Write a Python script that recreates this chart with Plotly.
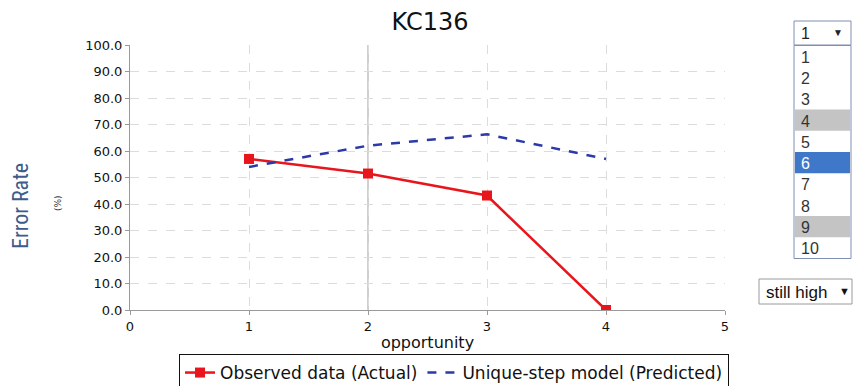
import plotly.graph_objects as go

# ---- data ----
opportunity = [1, 2, 3, 4]
observed = [57.0, 51.5, 43.2, 0.0]
predicted = [54.0, 62.0, 66.3, 57.0]
x_ticks = [0, 1, 2, 3, 4, 5]
y_ticks = [0, 10, 20, 30, 40, 50, 60, 70, 80, 90, 100]
crosshair_x = 2
select_options = ["1", "2", "3", "4", "5", "6", "7", "8", "9", "10"]
selected_value = "1"
gray_rows = ["4", "9"]
blue_row = "6"
filter_label = "still high"

OFF = 8  # page body margin
W, H = 862 - OFF, 386 - OFF
# plot area in screen pixels
SX0, SX1, SY0, SY1 = 130, 725, 45, 310
L, R, T, B = SX0 - OFF, W - (SX1 - OFF), SY0 - OFF, H - (SY1 - OFF)
PW, PH = SX1 - SX0, SY1 - SY0


def px(x):
    return (x - SX0) / PW


def py(y):
    return (SY1 - y) / PH


fig = go.Figure()
fig.add_trace(go.Scatter(
    x=opportunity, y=observed, mode="lines+markers",
    name="Observed data (Actual)",
    line=dict(color="#e8161c", width=2.5),
    marker=dict(symbol="square", size=10, color="#e8161c"),
))
fig.add_trace(go.Scatter(
    x=opportunity, y=predicted, mode="lines",
    name="Unique-step model (Predicted)",
    line=dict(color="#2b3aa8", width=2.5, dash="dash"),
))

shapes = []
annotations = []

# crosshair line
shapes.append(dict(type="line", xref="x", yref="paper", x0=crosshair_x, x1=crosshair_x,
                   y0=0, y1=1, line=dict(color="#a0a0a0", width=1), layer="below"))

# select box (top)
FONT_UI = "Liberation Sans, Arial, sans-serif"
bx0, bx1 = 794, 851
shapes.append(dict(type="rect", xref="paper", yref="paper",
                   x0=px(bx0), x1=px(bx1), y0=py(45), y1=py(21),
                   line=dict(color="#7f8fb0", width=1), fillcolor="white"))
annotations.append(dict(xref="paper", yref="paper", x=px(799), y=py(33), xanchor="left",
                        yanchor="middle", text=selected_value, showarrow=False,
                        font=dict(family=FONT_UI, size=16, color="#222")))
annotations.append(dict(xref="paper", yref="paper", x=px(838), y=py(32), xanchor="center",
                        yanchor="middle", text="▼", showarrow=False,
                        font=dict(family=FONT_UI, size=10, color="#222")))

# list box
top, rowh = 45.5, 21.3
shapes.append(dict(type="rect", xref="paper", yref="paper",
                   x0=px(bx0), x1=px(bx1), y0=py(top + rowh * len(select_options)), y1=py(top),
                   line=dict(color="#7f8fb0", width=1), fillcolor="white"))
for i, opt in enumerate(select_options):
    y0 = top + i * rowh
    fill = None
    color = "#333"
    if opt in gray_rows:
        fill = "#c4c4c4"
    if opt == blue_row:
        fill = "#3f78c8"
        color = "white"
    if fill:
        shapes.append(dict(type="rect", xref="paper", yref="paper",
                           x0=px(bx0 + 1), x1=px(bx1 - 1), y0=py(y0 + rowh), y1=py(y0),
                           line=dict(width=0), fillcolor=fill))
    annotations.append(dict(xref="paper", yref="paper", x=px(799), y=py(y0 + rowh / 2 + 1),
                            xanchor="left", yanchor="middle", text=opt, showarrow=False,
                            font=dict(family=FONT_UI, size=16, color=color)))

# "still high" select
shapes.append(dict(type="rect", xref="paper", yref="paper",
                   x0=px(759), x1=px(852), y0=py(304), y1=py(279),
                   line=dict(color="#9a9a9a", width=1), fillcolor="white"))
annotations.append(dict(xref="paper", yref="paper", x=px(764), y=py(292), xanchor="left",
                        yanchor="middle", text=filter_label, showarrow=False,
                        font=dict(family=FONT_UI, size=17, color="#111")))
annotations.append(dict(xref="paper", yref="paper", x=px(844), y=py(291), xanchor="center",
                        yanchor="middle", text="▼", showarrow=False,
                        font=dict(family=FONT_UI, size=11, color="#111")))

# y axis titles
annotations.append(dict(xref="paper", yref="paper", x=px(20), y=py(206), xanchor="center",
                        yanchor="middle", text="Error Rate", textangle=-90, showarrow=False,
                        font=dict(family="Liberation Sans Narrow, Roboto Condensed, Liberation Sans, Arial",
                                  size=22, color="#3d5b8c")))
annotations.append(dict(xref="paper", yref="paper", x=px(58), y=py(203), xanchor="center",
                        yanchor="middle", text="(%)", textangle=-90, showarrow=False,
                        font=dict(family="DejaVu Sans", size=9, color="#333")))

axis_common = dict(showline=True, linecolor="#9a9a9a", linewidth=1, ticks="outside",
                   ticklen=4, tickcolor="#9a9a9a", showgrid=True, gridcolor="#dcdcdc",
                   griddash="dash", gridwidth=1, zeroline=False,
                   tickfont=dict(family="DejaVu Sans", size=13, color="#111"))

fig.update_layout(
    width=W, height=H,
    margin=dict(l=L, r=R, t=T, b=B, autoexpand=False),
    paper_bgcolor="white", plot_bgcolor="white",
    title=dict(text="KC136", x=(430 - OFF) / W, xref="container",
               y=1 - (22 - OFF) / H, yref="container",
               xanchor="center", yanchor="middle",
               font=dict(family="DejaVu Sans", size=24, color="#111")),
    xaxis=dict(range=[0, 5], tickvals=x_ticks, ticktext=[str(v) for v in x_ticks],
               title=dict(text="opportunity", standoff=4,
                          font=dict(family="DejaVu Sans", size=16, color="#111")),
               **axis_common),
    yaxis=dict(range=[0, 100], tickvals=y_ticks, tickformat=".1f", **axis_common),
    legend=dict(orientation="h", x=px(454), xanchor="center", y=py(354), yanchor="top",
                bordercolor="#111", borderwidth=1, bgcolor="white",
                font=dict(family="DejaVu Sans", size=17, color="#111"),
                itemwidth=30, tracegroupgap=0),
    shapes=shapes,
    annotations=annotations,
    showlegend=True,
)

fig.write_html("out.html")
